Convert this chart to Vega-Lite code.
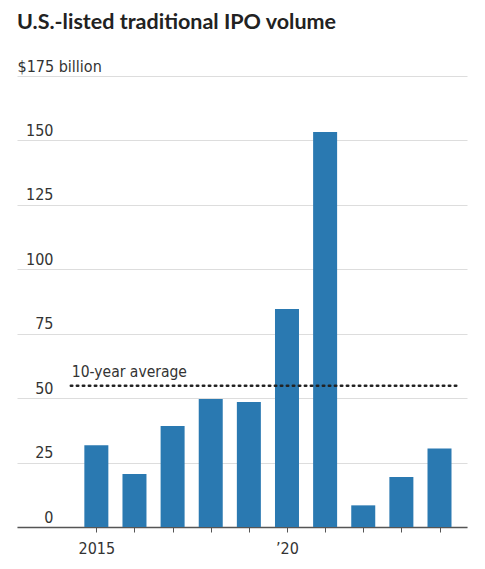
{
  "$schema": "https://vega.github.io/schema/vega-lite/v6.json",
  "width": 450,
  "height": 451,
  "autosize": "none",
  "padding": {"left": 17, "top": 76, "right": 18, "bottom": 42},
  "background": "white",
  "title": {
    "text": "U.S.-listed traditional IPO volume",
    "anchor": "start",
    "frame": "group",
    "font": "Lato",
    "fontSize": 21.5,
    "fontWeight": "bold",
    "color": "#222222",
    "baseline": "alphabetic",
    "offset": 8
  },
  "config": {
    "view": {"stroke": null},
    "axis": {"labelFont": "Liberation Sans Narrow, DejaVu Sans Condensed, sans-serif", "labelColor": "#333333", "labelFontSize": 16}
  },
  "layer": [
    {
      "data": {"values": [
        {"year": 2015, "value": 31.7},
        {"year": 2016, "value": 20.6},
        {"year": 2017, "value": 39.2},
        {"year": 2018, "value": 49.7},
        {"year": 2019, "value": 48.5},
        {"year": 2020, "value": 84.6},
        {"year": 2021, "value": 153.3},
        {"year": 2022, "value": 8.4},
        {"year": 2023, "value": 19.4},
        {"year": 2024, "value": 30.5}
      ]},
      "mark": {"type": "bar", "size": 24, "color": "#2a79b1"},
      "encoding": {
        "x": {
          "field": "year", "type": "quantitative",
          "scale": {"domain": [2013.05, 2024.59], "nice": false, "zero": false},
          "axis": {
            "title": null,
            "values": [2015, 2016, 2017, 2018, 2019, 2020, 2021, 2022, 2023, 2024],
            "labelExpr": "datum.value == 2015 ? '2015' : datum.value == 2020 ? '\u201920' : ''",
            "grid": false,
            "domainColor": "#555555",
            "domainWidth": 1.5,
            "tickColor": "#555555",
            "tickSize": 5,
            "tickWidth": 1,
            "labelPadding": 8,
            "labelFlush": false,
            "labelOverlap": false
          }
        },
        "y": {
          "field": "value", "type": "quantitative",
          "scale": {"domain": [0, 175], "nice": false},
          "axis": {
            "title": null,
            "values": [0, 25, 50, 75, 100, 125, 150, 175],
            "labelExpr": "datum.value == 175 ? '$175 billion' : datum.label",
            "grid": true,
            "gridColor": "#dddddd",
            "gridWidth": 1.2,
            "domain": false,
            "ticks": false,
            "tickSize": 0,
            "labelAlign": {"condition": {"test": "datum.value == 175", "value": "left"}, "value": "right"},
            "labelPadding": {"condition": {"test": "datum.value == 175", "value": 0}, "value": -36},
            "labelBaseline": "alphabetic",
            "labelOffset": -5
          }
        }
      }
    },
    {
      "data": {"values": [{"label": "10-year average", "avg": 54.8, "start": 2014.33, "end": 2024.5}]},
      "mark": {"type": "rule", "color": "#222222", "strokeWidth": 2.5, "strokeDash": [1.5, 4.5], "strokeCap": "round"},
      "encoding": {
        "x": {"field": "start", "type": "quantitative"},
        "x2": {"field": "end"},
        "y": {"field": "avg", "type": "quantitative"}
      }
    },
    {
      "data": {"values": [{"label": "10-year average", "avg": 54.8, "start": 2014.33, "end": 2024.5}]},
      "mark": {"type": "text", "align": "left", "baseline": "alphabetic", "dy": -9, "dx": 1, "font": "Liberation Sans Narrow, DejaVu Sans Condensed, sans-serif", "fontSize": 15.5, "color": "#333333"},
      "encoding": {
        "x": {"field": "start", "type": "quantitative"},
        "y": {"field": "avg", "type": "quantitative"},
        "text": {"field": "label"}
      }
    }
  ]
}
